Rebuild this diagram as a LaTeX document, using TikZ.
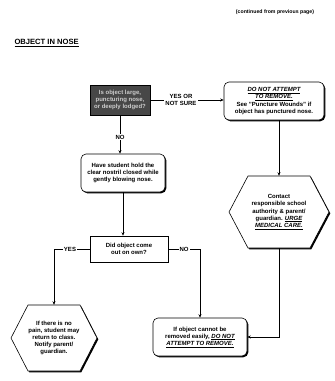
\documentclass[tikz,border=0pt]{standalone}
\usepackage{fontspec}
\setmainfont{Liberation Sans}
\usetikzlibrary{arrows.meta,shadows,calc}
\begin{document}
\begin{tikzpicture}[x=1pt,y=1pt,
  txt/.style={font=\fontsize{6}{7.1}\selectfont\bfseries, align=center},
  shade/.style={drop shadow={shadow xshift=1.3pt, shadow yshift=-1.3pt, opacity=1, fill=black}},
  boxr/.style={txt, draw, line width=0.6pt, rounded corners=5pt, fill=white, shade, inner sep=2pt},
  boxs/.style={txt, draw, line width=0.6pt, fill=white, shade, inner sep=2pt},
  darkbox/.style={txt, draw, line width=0.6pt, fill=black!72, text=white!80!black, shade, inner sep=2pt},
  hexline/.style={draw, line width=0.6pt, fill=white, shade},
  link/.style={line width=0.6pt},
  arr/.style={link, -{Stealth[length=3.5pt,width=3pt]}},
  lab/.style={txt, fill=white, inner sep=1pt},
]
\useasboundingbox (0,0) rectangle (335,-381);

% headings
\node[txt, font=\fontsize{5.2}{6}\selectfont\bfseries] (cont) at (275,-12) {(continued from previous page)};
\node[txt, anchor=west, font=\fontsize{7.6}{9}\selectfont\bfseries] (title) at (11,-43) {\underline{OBJECT IN NOSE}};

% first question
\node[darkbox, minimum width=60pt, minimum height=30pt] (q1) at (120,-100)
  {Is object large,\\ puncturing nose,\\ or deeply lodged?};

% do not remove
\node[boxr, minimum width=100pt, minimum height=38pt] (dont) at (274,-101)
  {\textit{\underline{DO NOT ATTEMPT}}\\ \textit{\underline{TO REMOVE.}}\\
   See "Puncture Wounds" if\\ object has punctured nose.};

% blowing nose
\node[boxr, minimum width=84pt, minimum height=38pt] (blow) at (123,-173)
  {Have student hold the\\ clear nostril closed while\\ gently blowing nose.};

% second question
\node[boxs, minimum width=78pt, minimum height=26pt] (q2) at (129,-249)
  {Did object come\\ out on own?};

% contact hexagon
\draw[hexline, shift={(279,-212)}] (-50,0) -- (-31,36) -- (31,36) -- (50,0) -- (31,-36) -- (-31,-36) -- cycle;
\node[txt, minimum height=72pt] (contact) at (279,-212)
  {Contact\\ responsible school\\ authority \& parent/\\ guardian. \textit{\underline{URGE}}\\ \textit{\underline{MEDICAL CARE.}}};

% return to class hexagon
\draw[hexline, shift={(54,-338)}] (-43,0) -- (-26,33) -- (26,33) -- (43,0) -- (26,-33) -- (-26,-33) -- cycle;
\node[txt, minimum height=66pt] (back) at (54,-338)
  {If there is no\\ pain, student may\\ return to class.\\ Notify parent/\\ guardian.};

% cannot remove
\node[boxr, minimum width=94pt, minimum height=38pt] (cannot) at (200,-337)
  {If object cannot be\\ removed easily, \textit{\underline{DO NOT}}\\ \textit{\underline{ATTEMPT TO REMOVE.}}};

% connectors
\draw[arr] (q1.east) -- (dont.west |- q1.east);
\node[lab] (yn) at (181,-100) {YES OR\\ NOT SURE};

\draw[arr] (q1.south) -- (q1.south |- blow.north);
\node[lab] (no1) at (120,-137) {NO};

\draw[arr] (blow.south) -- (blow.south |- q2.north);

\coordinate (yturn) at (54,-249);
\draw[arr] (q2.west) -- (yturn) -- (back.north);
\node[lab] (yes) at (70,-249) {YES};

\coordinate (nturn) at (200,-249);
\draw[arr] (q2.east) -- (nturn) -- (cannot.north);
\node[lab] (no2) at (184,-249) {NO};

\draw[arr] (dont.south -| contact.north) -- (contact.north);

\coordinate (cturn) at (279,-337);
\draw[arr] (contact.south) -- (cturn) -- (cannot.east);
\end{tikzpicture}
\end{document}
